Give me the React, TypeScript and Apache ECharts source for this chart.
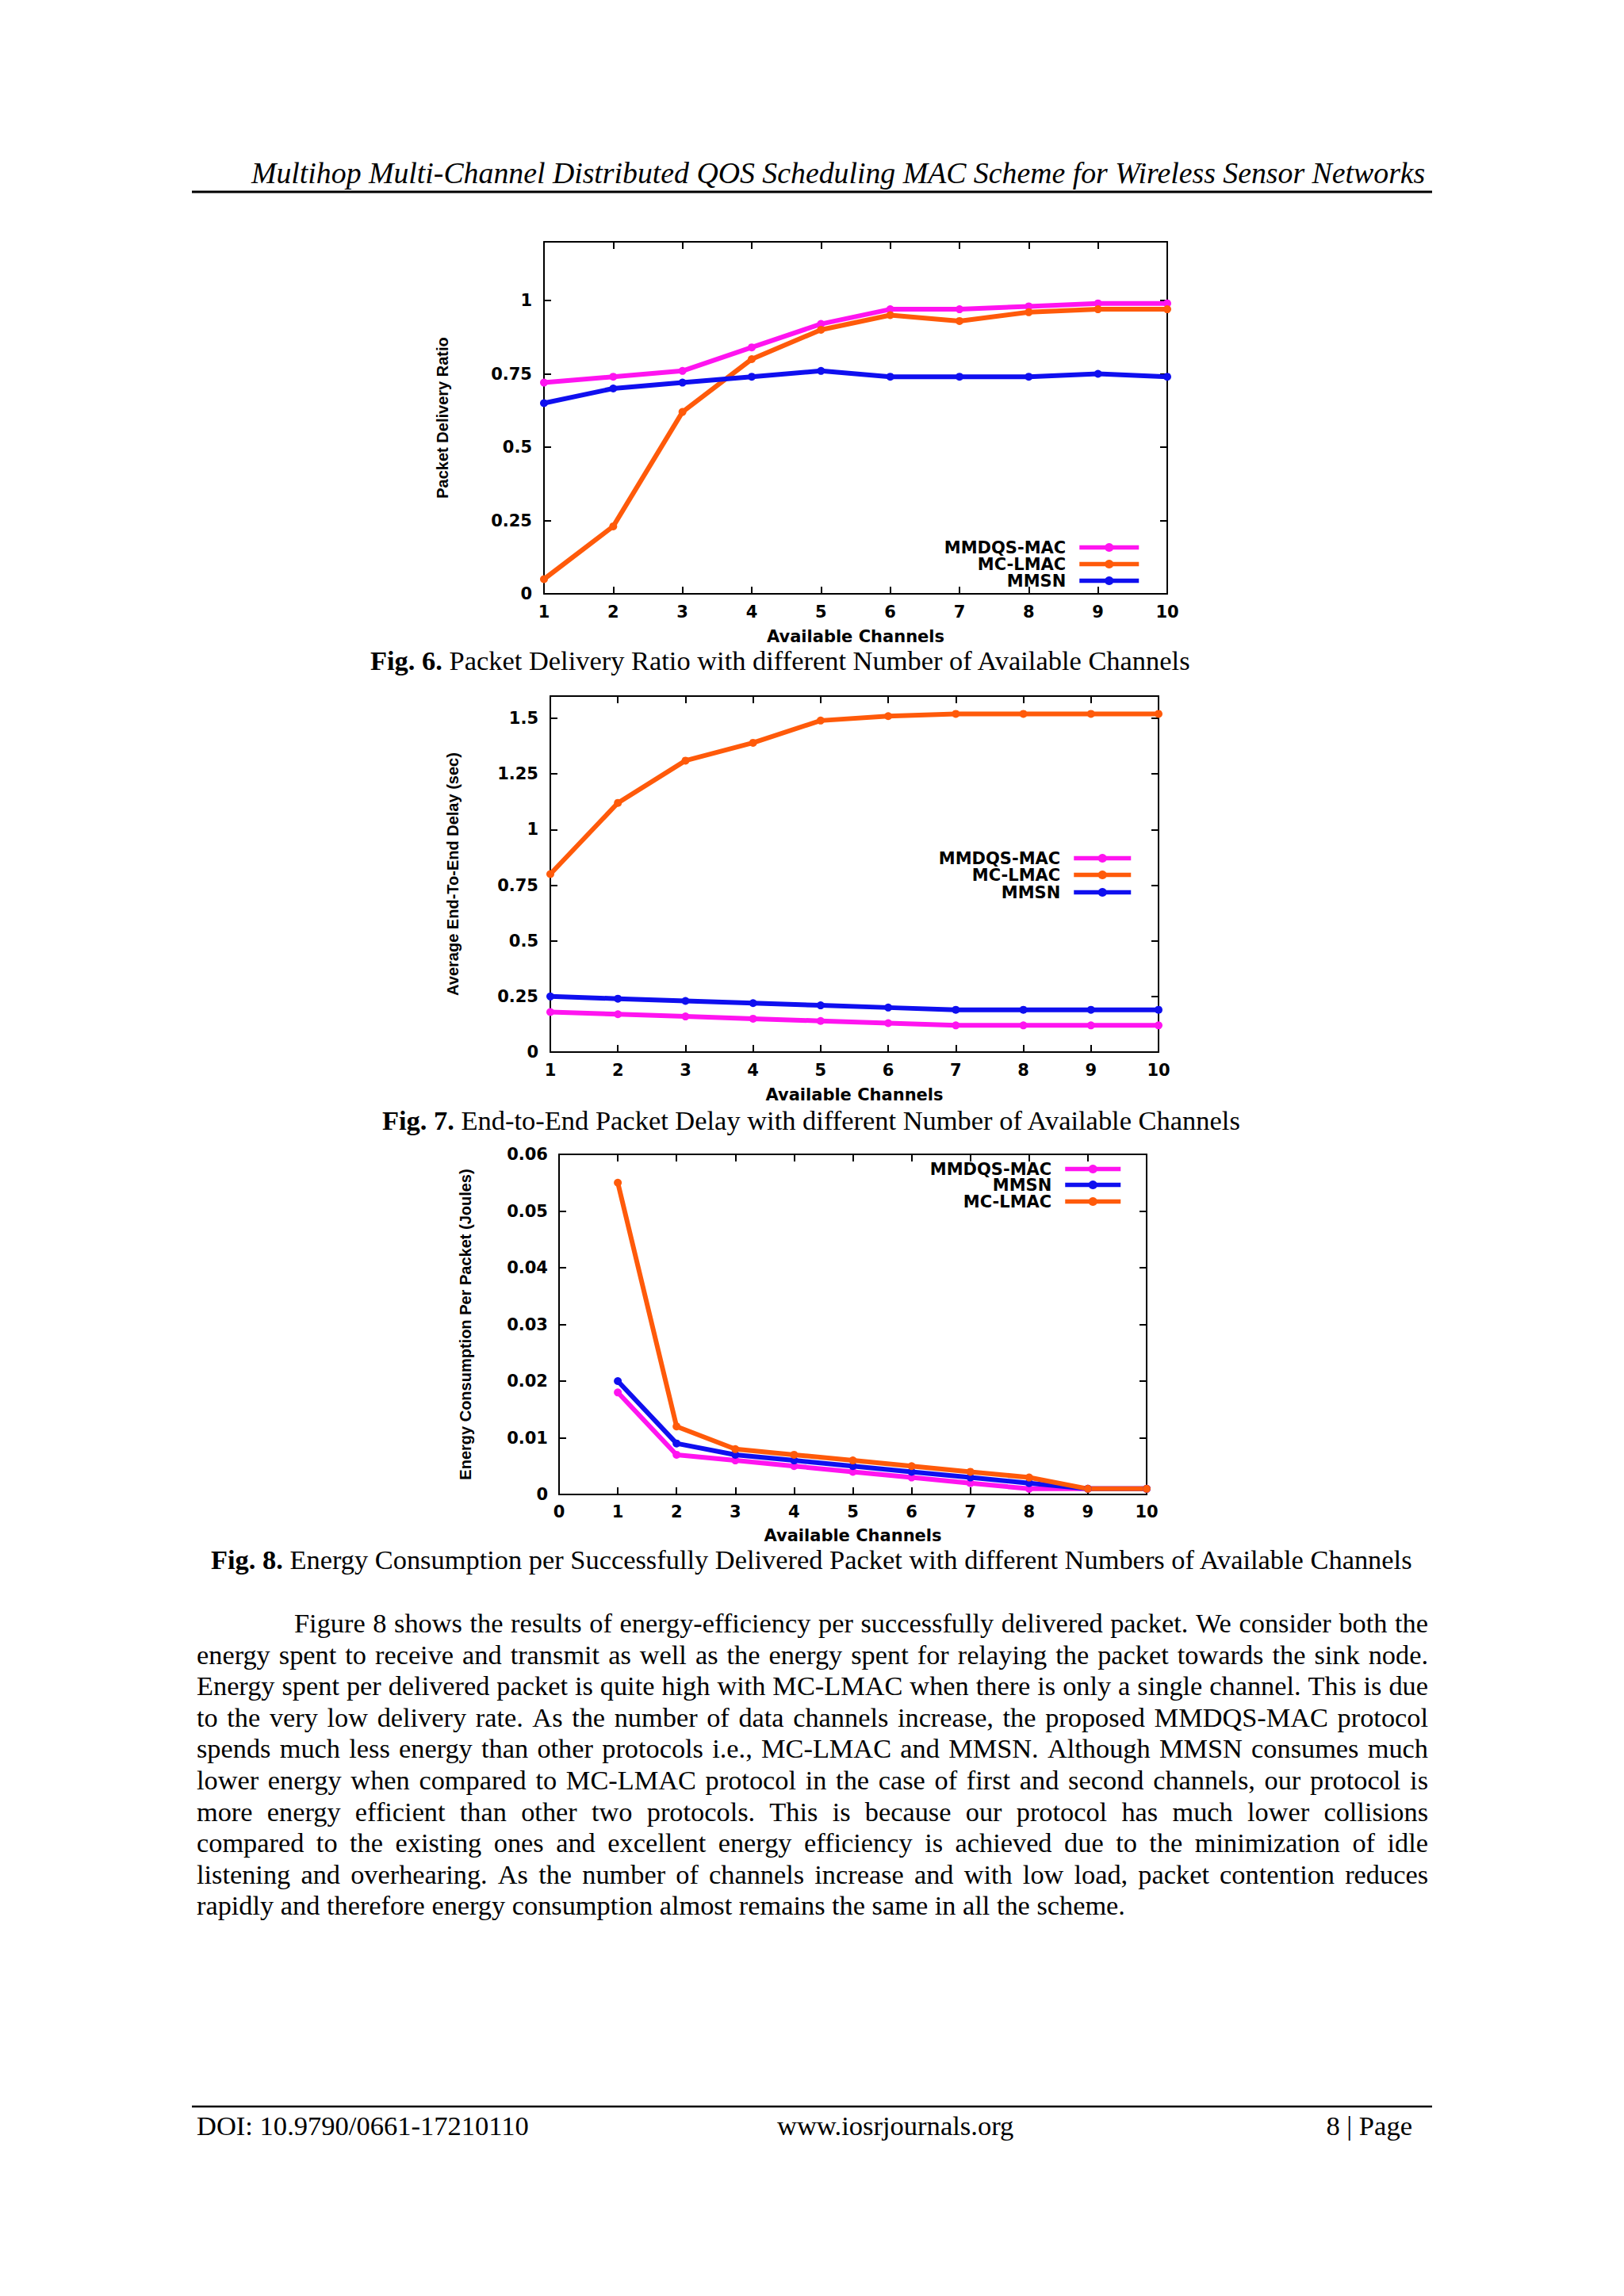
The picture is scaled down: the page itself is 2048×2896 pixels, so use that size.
import React, { useEffect, useRef } from "react";
import * as echarts from "echarts";

// ---------- data ----------
const channels = [1, 2, 3, 4, 5, 6, 7, 8, 9, 10];

const pdrMMDQS = [0.72, 0.74, 0.76, 0.84, 0.92, 0.97, 0.97, 0.98, 0.99, 0.99];
const pdrMCLMAC = [0.05, 0.23, 0.62, 0.8, 0.9, 0.95, 0.93, 0.96, 0.97, 0.97];
const pdrMMSN = [0.65, 0.7, 0.72, 0.74, 0.76, 0.74, 0.74, 0.74, 0.75, 0.74];

const delayMMDQS = [0.18, 0.17, 0.16, 0.15, 0.14, 0.13, 0.12, 0.12, 0.12, 0.12];
const delayMCLMAC = [0.8, 1.12, 1.31, 1.39, 1.49, 1.51, 1.52, 1.52, 1.52, 1.52];
const delayMMSN = [0.25, 0.24, 0.23, 0.22, 0.21, 0.2, 0.19, 0.19, 0.19, 0.19];

const energyMMDQS = [0.018, 0.007, 0.006, 0.005, 0.004, 0.003, 0.002, 0.001, 0.001, 0.001];
const energyMMSN = [0.02, 0.009, 0.007, 0.006, 0.005, 0.004, 0.003, 0.002, 0.001, 0.001];
const energyMCLMAC = [0.055, 0.012, 0.008, 0.007, 0.006, 0.005, 0.004, 0.003, 0.001, 0.001];

const headerText =
  "Multihop Multi-Channel Distributed QOS Scheduling MAC Scheme for Wireless Sensor Networks";
const captions = [
  { bold: "Fig. 6.", rest: " Packet Delivery Ratio with different Number of Available Channels" },
  { bold: "Fig. 7.", rest: " End-to-End Packet Delay with different Number of Available Channels" },
  {
    bold: "Fig. 8.",
    rest: " Energy Consumption per Successfully Delivered Packet with different Numbers of Available Channels",
  },
];
const bodyLines = [
  "Figure 8 shows the results of energy-efficiency per successfully delivered packet. We consider both the",
  "energy spent to receive and transmit as well as the energy spent for relaying the packet towards the sink node.",
  "Energy spent per delivered packet is quite high with MC-LMAC when there is only a single channel. This is due",
  "to the very low delivery rate. As the number of data channels increase, the proposed MMDQS-MAC protocol",
  "spends much less energy than other protocols i.e., MC-LMAC and MMSN. Although MMSN consumes much",
  "lower energy when compared to MC-LMAC protocol in the case of first and second channels, our protocol is",
  "more energy efficient than other two protocols. This is because our protocol has much lower collisions",
  "compared to the existing ones and excellent energy efficiency is achieved due to the minimization of idle",
  "listening and overhearing. As the number of channels increase and with low load, packet contention reduces",
  "rapidly and therefore energy consumption almost remains the same in all the scheme.",
];
const footerLeft = "DOI: 10.9790/0661-17210110";
const footerMid = "www.iosrjournals.org";
const footerRight = "8 | Page";

const yNames = [
  "Packet Delivery Ratio",
  "Average End-To-End Delay (sec)",
  "Energy Consumption Per Packet (Joules)",
];
const xName = "Available Channels";

// ---------- style ----------
const C_MAG = "#ff14f0";
const C_ORA = "#ff5a0a";
const C_BLU = "#0f0fef";
const SERIF = '"Liberation Serif", "Times New Roman", serif';
const SANS_W = '"DejaVu Sans", sans-serif';
const SANS = '"Liberation Sans", Arial, sans-serif';
const PAGE_W = 2048;

let ctx: CanvasRenderingContext2D | null = null;
function measure(text: string, font: string) {
  if (!ctx) ctx = document.createElement("canvas").getContext("2d");
  ctx!.font = font;
  return ctx!.measureText(text).width;
}

function txt(text: string, x: number, y: number, size: number, opts: any = {}) {
  const align = opts.align || "left";
  return {
    type: "text",
    x,
    y,
    silent: true,
    style: {
      text,
      fontSize: size,
      fontFamily: opts.family || SERIF,
      fontWeight: opts.weight || "normal",
      fontStyle: opts.style || "normal",
      fill: "#000",
      align,
      textAlign: align,
      verticalAlign: "middle",
      textVerticalAlign: "middle",
    },
  };
}

function buildGraphics() {
  const g: any[] = [];
  // header
  const hW = measure(headerText, `italic 100px ${SERIF}`);
  const hSize = (100 * (1798 - 317)) / hW;
  g.push(txt(headerText, 317, 218, hSize, { style: "italic" }));
  g.push({
    type: "line",
    shape: { x1: 242, y1: 242, x2: 1806, y2: 242 },
    style: { stroke: "#000", lineWidth: 3 },
  });

  // captions
  const capPos = [
    { x0: 467, x1: 1503, y: 833 },
    { x0: 482, x1: 1566, y: 1413 },
    { x0: 266, x1: 1783, y: 1967 },
  ];
  captions.forEach((c, i) => {
    const p = capPos[i];
    const wb = measure(c.bold, `bold 100px ${SERIF}`);
    const wr = measure(c.rest, `100px ${SERIF}`);
    const s = (100 * (p.x1 - p.x0)) / (wb + wr);
    g.push(txt(c.bold, p.x0, p.y, s, { weight: "bold" }));
    g.push(txt(c.rest, p.x0 + (wb * s) / 100, p.y, s));
  });

  // body text, justified
  const last = bodyLines[bodyLines.length - 1];
  const bSize = (100 * (1419 - 248)) / measure(last, `100px ${SERIF}`);
  const bFont = `${bSize}px ${SERIF}`;
  bodyLines.forEach((line, i) => {
    const y = 2047 + 39.6 * i;
    const x0 = i === 0 ? 371 : 248;
    const x1 = 1801;
    if (i === bodyLines.length - 1) {
      g.push(txt(line, x0, y, bSize));
      return;
    }
    const words = line.split(" ");
    const ws = words.map((w) => measure(w, bFont));
    const total = ws.reduce((a, b) => a + b, 0);
    const gap = (x1 - x0 - total) / (words.length - 1);
    let x = x0;
    words.forEach((w, k) => {
      g.push(txt(w, x, y, bSize));
      x += ws[k] + gap;
    });
  });

  // footer
  g.push({
    type: "line",
    shape: { x1: 242, y1: 2657, x2: 1806, y2: 2657 },
    style: { stroke: "#000", lineWidth: 2.5 },
  });
  const fSize = (100 * (667 - 248)) / measure(footerLeft, `100px ${SERIF}`);
  g.push(txt(footerLeft, 248, 2681, fSize));
  g.push(txt(footerMid, 980, 2681, fSize));
  g.push(txt(footerRight, 1781, 2681, fSize, { align: "right" }));
  return g;
}

type GridSpec = {
  left: number;
  top: number;
  width: number;
  height: number;
  xmin: number;
  ymax: number;
  yint: number;
  yLabelMargin: number;
  xLabelMargin: number;
  xNameGap: number;
  yNameGap: number;
};

const grids: GridSpec[] = [
  { left: 686, top: 305, width: 786, height: 444, xmin: 1, ymax: 1.2, yint: 0.25, yLabelMargin: 15, xLabelMargin: 12, xNameGap: 43, yNameGap: 118 },
  { left: 694, top: 878, width: 767, height: 449, xmin: 1, ymax: 1.6, yint: 0.25, yLabelMargin: 15, xLabelMargin: 12, xNameGap: 43, yNameGap: 113 },
  { left: 705, top: 1456, width: 741, height: 429, xmin: 0, ymax: 0.06, yint: 0.01, yLabelMargin: 14, xLabelMargin: 11, xNameGap: 41, yNameGap: 108 },
];

const tickFont = { fontFamily: SANS_W, fontWeight: "bold", fontSize: 21, color: "#000" };
const axisLine = { show: true, onZero: false, lineStyle: { color: "#000", width: 2 } };
const axisTick = { show: true, inside: true, length: 9, lineStyle: { color: "#000", width: 2 } };

function yFormatter(step: number) {
  return (v: number) => {
    const r = v / step;
    if (Math.abs(r - Math.round(r)) > 1e-6) return "";
    return String(Number(v.toFixed(4)));
  };
}

function buildAxes() {
  const xAxis: any[] = [];
  const yAxis: any[] = [];
  grids.forEach((g, i) => {
    const xBase = { type: "value", gridIndex: i, min: g.xmin, max: 10, interval: 1, splitLine: { show: false }, axisLine, axisTick };
    xAxis.push({
      ...xBase,
      position: "bottom",
      axisLabel: { ...tickFont, margin: g.xLabelMargin, formatter: (v: number) => String(v) },
      name: xName,
      nameLocation: "middle",
      nameGap: g.xNameGap,
      nameTextStyle: { fontFamily: SANS_W, fontWeight: "bold", fontSize: 21, color: "#000" },
    });
    xAxis.push({ ...xBase, position: "top", axisLabel: { show: false } });
    const yBase = { type: "value", gridIndex: i, min: 0, max: g.ymax, interval: g.yint, splitLine: { show: false }, axisLine, axisTick };
    yAxis.push({
      ...yBase,
      position: "left",
      axisLabel: { ...tickFont, margin: g.yLabelMargin, formatter: yFormatter(g.yint) },
      name: yNames[i],
      nameLocation: "middle",
      nameGap: g.yNameGap,
      nameTextStyle: { fontFamily: SANS, fontWeight: "bold", fontSize: 20, color: "#000" },
    });
    yAxis.push({ ...yBase, position: "right", axisLabel: { show: false } });
  });
  return { xAxis, yAxis };
}

function line(name: string, color: string, values: number[], gi: number) {
  return {
    type: "line",
    name,
    xAxisIndex: gi * 2,
    yAxisIndex: gi * 2,
    data: channels.map((c, k) => [c, values[k]]),
    symbol: "circle",
    symbolSize: 10,
    showSymbol: true,
    lineStyle: { color, width: 6 },
    itemStyle: { color },
    emphasis: { disabled: true },
  };
}

function legendItem(name: string, iconRight: number, iconW: number, cy: number, textRight: number) {
  const pad = iconRight - iconW - 5 - textRight;
  return {
    data: [name],
    orient: "horizontal",
    align: "right",
    right: PAGE_W - iconRight,
    top: cy - 10,
    padding: 0,
    itemWidth: iconW,
    itemHeight: 14,
    itemGap: 0,
    selectedMode: false,
    lineStyle: { width: 5.5 },
    textStyle: {
      fontFamily: SANS_W,
      fontWeight: "bold",
      fontSize: 21,
      color: "#000",
      lineHeight: 20,
      padding: [0, pad, 0, 0],
    },
  };
}

function buildOption() {
  const { xAxis, yAxis } = buildAxes();
  const series = [
    line("MMDQS-MAC", C_MAG, pdrMMDQS, 0),
    line("MC-LMAC", C_ORA, pdrMCLMAC, 0),
    line("MMSN", C_BLU, pdrMMSN, 0),
    line("MMDQS-MAC", C_MAG, delayMMDQS, 1),
    line("MC-LMAC", C_ORA, delayMCLMAC, 1),
    line("MMSN", C_BLU, delayMMSN, 1),
    line("MMDQS-MAC", C_MAG, energyMMDQS, 2),
    line("MMSN", C_BLU, energyMMSN, 2),
    line("MC-LMAC", C_ORA, energyMCLMAC, 2),
  ];
  const legend = [
    legendItem("MMDQS-MAC", 1439, 75, 690, 1347),
    legendItem("MC-LMAC", 1439, 75, 711, 1347),
    legendItem("MMSN", 1439, 75, 732, 1347),
    legendItem("MMDQS-MAC", 1429, 72, 1082, 1340),
    legendItem("MC-LMAC", 1429, 72, 1103, 1340),
    legendItem("MMSN", 1429, 72, 1125, 1340),
    legendItem("MMDQS-MAC", 1416, 70, 1474, 1329),
    legendItem("MMSN", 1416, 70, 1494, 1329),
    legendItem("MC-LMAC", 1416, 70, 1515, 1329),
  ];
  return {
    animation: false,
    backgroundColor: "#fff",
    grid: grids.map((g) => ({ left: g.left, top: g.top, width: g.width, height: g.height, containLabel: false, show: false })),
    xAxis,
    yAxis,
    legend,
    series,
    tooltip: { show: false },
    graphic: { elements: buildGraphics() },
  };
}

export default function App() {
  const ref = useRef<HTMLDivElement>(null);
  useEffect(() => {
    if (!ref.current) return;
    const chart = echarts.init(ref.current, null, { renderer: "svg" });
    chart.setOption(buildOption() as any);
    return () => chart.dispose();
  }, []);
  return (
    <div
      ref={ref}
      style={{ position: "absolute", left: 0, top: 0, width: 2048, height: 2896, background: "#fff" }}
    />
  );
}
